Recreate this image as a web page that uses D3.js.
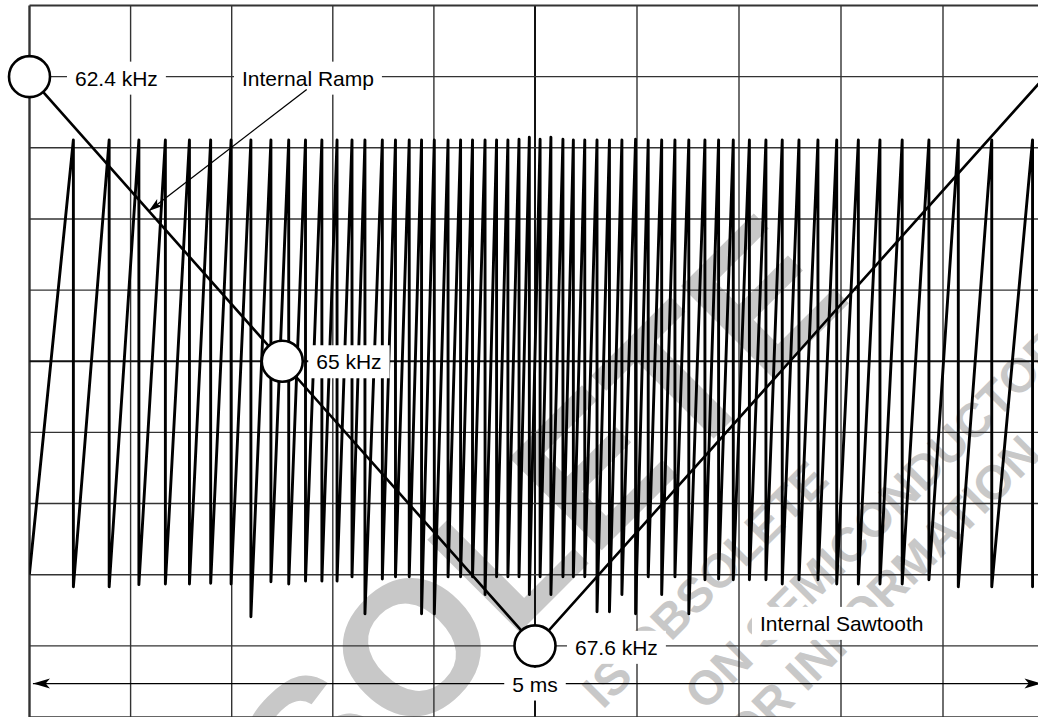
<!DOCTYPE html>
<html>
<head>
<meta charset="utf-8">
<script src="https://cdn.jsdelivr.net/npm/d3@7"></script>
<style>
  html, body { margin: 0; padding: 0; background: #fff; }
  svg { display: block; }
  text { font-family: "Liberation Sans", Arial, Helvetica, sans-serif; }
</style>
</head>
<body>
<svg id="chart" width="1038" height="717"></svg>
<script>
// graticule: 10 x 0.5 ms across (5 ms sweep), 10 divisions up/down
const timeTicks = [0, 500, 1000, 1500, 2000, 2500, 3000, 3500, 4000, 4500, 5000]; // us
const divTicks = [-5, -4, -3, -2, -1, 0, 1, 2, 3, 4, 5];

// internal ramp (frequency sweep), kHz
const rampTime = [0, 1250, 2500, 3750, 5000];
const rampFreq = [62.4, 65, 67.6, 65, 62.4];
const markerTime = [0, 1250, 2500];
const markerFreq = [62.4, 65, 67.6];
const markerLabels = ["62.4 kHz", "65 kHz", "67.6 kHz"];

// internal sawtooth: start point, then the fall instant of every tooth (us),
// its peak and trough level (divisions)
const sawStart = [0, -2.98];
const sawFall = [217, 394, 541, 672, 791, 896, 997, 1095, 1194, 1282, 1365, 1446, 1521,
  1595, 1659, 1745, 1810, 1878, 1939, 2002, 2070, 2132, 2191, 2253, 2310, 2366, 2421, 2472,
  2525, 2578, 2637, 2688, 2744, 2804, 2865, 2926, 2993, 3055, 3121, 3186, 3254,
  3333, 3400, 3472, 3551, 3632, 3712, 3794, 3887, 3979, 4085, 4191, 4300, 4431, 4575, 4739, 4939];
const sawPeak = [3.11, 3.11, 3.11, 3.11, 3.11, 3.11, 3.11, 3.11, 3.11, 3.11, 3.11, 3.11, 3.11,
  3.11, 3.11, 3.11, 3.11, 3.11, 3.11, 3.11, 3.11, 3.11, 3.11, 3.11, 3.11, 3.11, 3.12, 3.15,
  3.12, 3.15, 3.12, 3.11, 3.11, 3.11, 3.11, 3.11, 3.12, 3.11, 3.11, 3.11, 3.11,
  3.11, 3.11, 3.11, 3.11, 3.11, 3.11, 3.11, 3.11, 3.11, 3.11, 3.11, 3.11, 3.11, 3.11, 3.11, 3.11];
const sawTrough = [-3.17, -3.17, -3.14, -3.13, -3.13, -3.12, -3.13, -3.59, -3.10, -3.13, -3.09, -3.09, -3.09,
  -3.03, -3.55, -3.06, -3.03, -3.03, -3.55, -3.55, -3.03, -3.03, -3.03, -3.28, -3.03, -3.03, -3.03, -3.28,
  -3.03, -3.28, -3.03, -3.03, -3.03, -3.52, -3.52, -3.28, -3.55, -3.03, -3.28, -3.03, -3.55,
  -3.07, -3.06, -3.07, -3.07, -3.07, -3.13, -3.07, -3.07, -3.13, -3.13, -3.13, -3.13, -3.07, -3.17, -3.17, -3.17];

// watermark lines printed across the page
const stampBig = "OBSOLETE";
const stampLines = ["IS OBSOLETE", "ON SEMICONDUCTOR", "FOR INFORMATION"];

const svg = d3.select("#chart");

var x = d3.scaleLinear().domain([0, 2500, 5000]).range([29.5, 535, 1045]);
var y = d3.scaleLinear().domain([-5, 5]).range([717, 5.5]);
var f = d3.scaleLinear().domain([62.4, 67.6]).range([y(4), y(-4)]);
var rampAt = d3.scaleLinear().domain(rampTime).range(rampFreq); // freq along the ramp

svg.append("rect").attr("width", 1038).attr("height", 717).attr("fill", "#fff");

// watermark, underneath everything
var wm = svg.append("g").attr("fill", "#c8c8c8").style("font-weight", "bold");
wm.append("text")
    .attr("transform", "translate(115,1037) rotate(-45)")
    .style("font-size", "190px")
    .text(stampBig);
var stampEnds = [[831, 482], [1068, 349], [1043, 456]];
wm.selectAll("text.l").data(stampLines).enter().append("text")
    .attr("transform", (d, i) => `translate(${stampEnds[i][0]},${stampEnds[i][1]}) rotate(-45)`)
    .attr("text-anchor", "end")
    .style("font-size", "48px")
    .text(d => d);

svg.append("clipPath").attr("id", "plot")
  .append("rect").attr("x", x(0)).attr("y", y(5))
    .attr("width", x(5000) - x(0)).attr("height", y(-5) - y(5));

// grid
var grid = svg.append("g");
grid.selectAll("line.v").data(timeTicks).enter().append("line")
    .attr("x1", d => x(d)).attr("x2", d => x(d))
    .attr("y1", y(5)).attr("y2", y(-5))
    .attr("stroke", d => d == 2500 ? "#111" : "#333")
    .attr("stroke-width", d => d == 2500 ? 2 : (d == 0 ? 2.4 : 1.4));
grid.selectAll("line.h").data(divTicks).enter().append("line")
    .attr("x1", x(0)).attr("x2", x(5000))
    .attr("y1", d => y(d)).attr("y2", d => y(d))
    .attr("stroke", d => d == 0 ? "#111" : "#333")
    .attr("stroke-width", d => d == 0 ? 2 : (d == 5 ? 1.8 : 1.4));

// sawtooth
var sawPts = [sawStart];
sawFall.forEach(function (t, i) {
    sawPts.push([t, sawPeak[i]], [t, sawTrough[i]]);
});
svg.append("path")
    .datum(sawPts)
    .attr("clip-path", "url(#plot)")
    .attr("d", d3.line().x(d => x(d[0])).y(d => y(d[1])))
    .attr("fill", "none")
    .attr("stroke", "#000")
    .attr("stroke-width", 2.9)
    .attr("stroke-linejoin", "round")
    .attr("stroke-linecap", "round");

// ramp V
svg.append("path")
    .datum(d3.zip(rampTime, rampFreq))
    .attr("d", d3.line().x(d => x(d[0])).y(d => f(d[1])))
    .attr("fill", "none")
    .attr("stroke", "#000")
    .attr("stroke-width", 2.6);

// labels on white boxes
function label(txt, px, py, anchor) {
    var g = svg.append("g");
    var bg = g.append("rect").attr("fill", "#fff");
    var t = g.append("text").attr("x", px).attr("y", py)
        .attr("text-anchor", anchor || "start")
        .style("font-size", "21px").attr("fill", "#000").text(txt);
    var b = t.node().getBBox();
    bg.attr("x", b.x - 8).attr("y", b.y - 5).attr("width", b.width + 16).attr("height", b.height + 10);
    return g;
}

function arrowHead(tipX, tipY, dx, dy, len, half) {
    var n = Math.hypot(dx, dy), ux = dx / n, uy = dy / n;
    var bx = tipX - ux * len, by = tipY - uy * len;
    svg.append("path")
        .attr("d", `M${tipX},${tipY}L${bx - uy * half},${by + ux * half}L${bx + ux * len * 0.25},${by + uy * len * 0.25}L${bx + uy * half},${by - ux * half}Z`)
        .attr("fill", "#000");
}

label(markerLabels[0], x(0) + 45.5, f(62.4) + 9);
label("Internal Ramp", x(1051), f(62.4) + 9);
label(markerLabels[1], x(1250) + 34, f(65) + 8);
label(markerLabels[2], x(2500) + 40, f(67.6) + 9);
label("Internal Sawtooth", x(3603), y(-3.79));

// "Internal Ramp" pointer
var tail = [x(1371), y(3.82)];
var tip = [x(590), f(rampAt(590))];
svg.append("line")
    .attr("x1", tail[0]).attr("y1", tail[1]).attr("x2", tip[0]).attr("y2", tip[1])
    .attr("stroke", "#000").attr("stroke-width", 1.3);
arrowHead(tip[0], tip[1], tip[0] - tail[0], tip[1] - tail[1], 14, 4.5);

// 5 ms span
var spanY = y(-4.53);
svg.append("line")
    .attr("x1", x(17)).attr("x2", x(4983)).attr("y1", spanY).attr("y2", spanY)
    .attr("stroke", "#000").attr("stroke-width", 1.3);
arrowHead(x(17), spanY, -1, 0, 17, 5);
arrowHead(x(4983), spanY, 1, 0, 17, 5);
label("5 ms", x(2500), spanY + 8, "middle");

// frequency markers
svg.selectAll("circle.m").data(d3.zip(markerTime, markerFreq)).enter().append("circle")
    .attr("cx", d => x(d[0])).attr("cy", d => f(d[1]))
    .attr("r", 20.5)
    .attr("fill", "#fff").attr("stroke", "#000").attr("stroke-width", 2.6);
</script>
</body>
</html>
